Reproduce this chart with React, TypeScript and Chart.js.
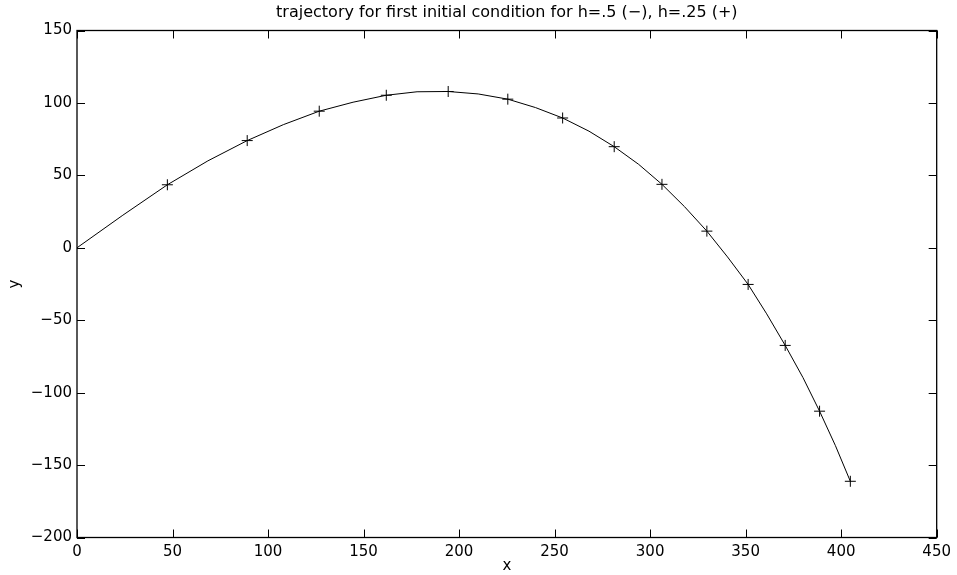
import React, { useEffect, useRef } from "react";
import { Chart, registerables } from "chart.js";

Chart.register(...registerables);

const titleText = "trajectory for first initial condition for h=.5 (\u2212), h=.25 (+)";
const xLabel = "x";
const yLabel = "y";

// h = .5 solution (solid line)
const lineX = [0, 24, 47.3, 68.5, 89.1, 108, 126.8, 144.5, 161.9, 178, 194.3, 210, 225.5, 240, 254.2, 268, 281.2, 294, 306.2, 318, 329.7, 340.5, 351.3, 361, 370.7, 380, 388.7, 397, 404.8];
const lineY = [0, 22.5, 43.5, 60, 74, 85, 94.3, 100.5, 105.3, 107.7, 107.9, 106.2, 102.6, 96.8, 89.6, 80.5, 69.8, 57.6, 43.8, 28.4, 11.5, -6.3, -25.3, -45.6, -67.4, -89.6, -112.8, -136.6, -161.2];

// h = .25 solution (+ markers)
const markX = [47.3, 89.1, 126.8, 161.9, 194.3, 225.5, 254.2, 281.2, 306.2, 329.7, 351.3, 370.7, 388.7, 404.8];
const markY = [43.5, 74, 94.3, 105.3, 107.9, 102.6, 89.6, 69.8, 43.8, 11.5, -25.3, -67.4, -112.8, -161.2];

const xTicks = [0, 50, 100, 150, 200, 250, 300, 350, 400, 450];
const yTicks = [-200, -150, -100, -50, 0, 50, 100, 150];

const FONT = "'DejaVu Sans', sans-serif";

const boxTicks = {
  id: "boxTicks",
  afterDatasetsDraw(chart: any) {
    const { ctx, chartArea } = chart;
    const { left, right, top, bottom } = chartArea;
    const xs = chart.scales.x;
    const ys = chart.scales.y;
    const L = 8;
    ctx.save();
    ctx.strokeStyle = "#000";
    ctx.lineWidth = 1;
    ctx.beginPath();
    xTicks.forEach((v) => {
      const px = Math.round(xs.getPixelForValue(v)) + 0.5;
      ctx.moveTo(px, bottom);
      ctx.lineTo(px, bottom - L);
      ctx.moveTo(px, top);
      ctx.lineTo(px, top + L);
    });
    yTicks.forEach((v) => {
      const py = Math.round(ys.getPixelForValue(v)) + 0.5;
      ctx.moveTo(left, py);
      ctx.lineTo(left + L, py);
      ctx.moveTo(right, py);
      ctx.lineTo(right - L, py);
    });
    ctx.stroke();
    ctx.lineWidth = 1.3;
    ctx.strokeRect(left, top, right - left, bottom - top);
    ctx.restore();
  },
};

export default function App() {
  const ref = useRef<HTMLCanvasElement | null>(null);
  useEffect(() => {
    if (!ref.current) return;
    const chart = new Chart(ref.current, {
      type: "line",
      data: {
        datasets: [
          {
            label: "h=.5",
            data: lineX.map((x, i) => ({ x, y: lineY[i] })),
            borderColor: "#000",
            borderWidth: 1,
            pointRadius: 0,
            tension: 0,
            fill: false,
          },
          {
            type: "scatter",
            label: "h=.25",
            data: markX.map((x, i) => ({ x, y: markY[i] })),
            borderColor: "#000",
            backgroundColor: "#000",
            pointStyle: "cross",
            pointRadius: 5.5,
            borderWidth: 1,
            showLine: false,
          } as any,
        ],
      },
      options: {
        responsive: false,
        animation: false,
        layout: { padding: { left: 0, right: 957 - 938.5, top: 0, bottom: 0 } },
        plugins: {
          legend: { display: false },
          tooltip: { enabled: false },
          title: {
            display: true,
            fullSize: false,
            text: titleText,
            color: "#000",
            font: { family: FONT, size: 16, weight: "normal" },
            padding: { top: 3, bottom: 8.3 },
          },
        },
        scales: {
          x: {
            type: "linear",
            min: 0,
            max: 450,
            afterBuildTicks: (s: any) => {
              s.ticks = xTicks.map((v) => ({ value: v }));
            },
            afterFit: (s: any) => {
              s.height = 37.5;
            },
            grid: { display: false, drawTicks: false },
            border: { display: false },
            ticks: {
              color: "#000",
              font: { family: FONT, size: 15 },
              padding: 6,
              maxRotation: 0,
              callback: (v: any) => String(v).replace("-", "\u2212"),
            },
            title: {
              display: true,
              text: xLabel,
              color: "#000",
              font: { family: FONT, size: 15 },
              padding: { top: 0, bottom: 0 },
            },
          },
          y: {
            type: "linear",
            min: -200,
            max: 150,
            afterBuildTicks: (s: any) => {
              s.ticks = yTicks.map((v) => ({ value: v }));
            },
            afterFit: (s: any) => {
              s.width = 77;
            },
            grid: { display: false, drawTicks: false },
            border: { display: false },
            ticks: {
              color: "#000",
              font: { family: FONT, size: 15 },
              padding: 5,
              callback: (v: any) => String(v).replace("-", "\u2212"),
            },
            title: {
              display: true,
              text: yLabel,
              color: "#000",
              font: { family: FONT, size: 15 },
              padding: { top: 6, bottom: 6 },
            },
          },
        },
      },
      plugins: [boxTicks],
    });
    return () => chart.destroy();
  }, []);
  return (
    <div style={{ position: "absolute", left: 0, top: 0, width: 957, height: 575, background: "#fff" }}>
      <canvas ref={ref} width={957} height={575} />
    </div>
  );
}
